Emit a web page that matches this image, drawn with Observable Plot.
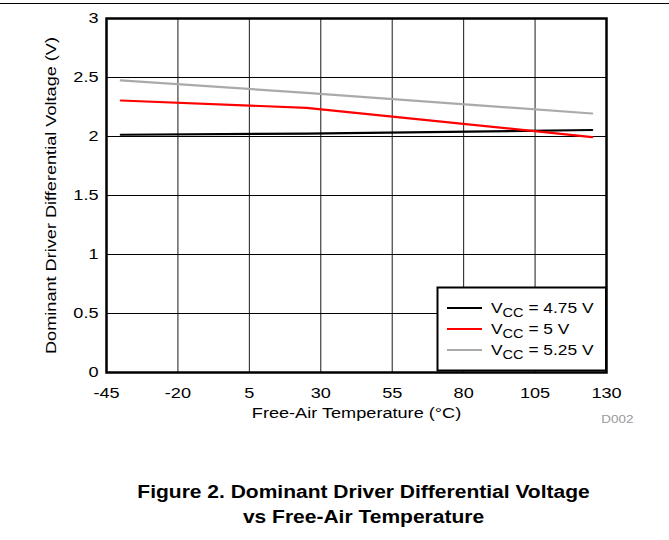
<!DOCTYPE html>
<html>
<head>
<meta charset="utf-8">
<script src="https://cdn.jsdelivr.net/npm/d3@7"></script>
<script src="https://cdn.jsdelivr.net/npm/@observablehq/plot@0.6"></script>
<style>
  html, body { margin: 0; padding: 0; background: #fff; }
  body { width: 669px; height: 540px; overflow: hidden; font-family: "Liberation Sans", Arial, sans-serif; }
  #wrap { position: relative; width: 669px; height: 540px; }
  #rule { position: absolute; left: 0; top: 3px; width: 669px; height: 1px; background: #000; }
  #chart { position: absolute; left: 0; top: 0; }
  #legend { position: absolute; left: 0; top: 0; }
  #title { position: absolute; left: 0; top: 480px; width: 727px; text-align: center;
           font-weight: bold; font-size: 17.5px; line-height: 25px; color: #000;
           transform: scaleX(1.2); transform-origin: 363.5px 0; }
</style>
</head>
<body>
<div id="wrap">
  <div id="rule"></div>
  <div id="chart"></div>
  <svg id="legend" width="669" height="440"></svg>
  <div id="title">Figure 2. Dominant Driver Differential Voltage<br>vs Free-Air Temperature</div>
</div>
<script>
// Data
const temps = [-40, 25, 125];
const v475 = [2.015, 2.025, 2.055];
const v500 = [2.305, 2.243, 1.995];
const v525 = [2.475, 2.37, 2.195];
const seriesNames = ["VCC = 4.75 V", "VCC = 5 V", "VCC = 5.25 V"];
const seriesColors = ["#000000", "#ff0000", "#aaaaaa"];
const xTicks = [-45, -20, 5, 30, 55, 80, 105, 130];
const yTicks = [0, 0.5, 1, 1.5, 2, 2.5, 3];
const xLabel = "Free-Air Temperature (°C)";
const yLabel = "Dominant Driver Differential Voltage (V)";
const code = "D002";

const allSeries = [v475, v500, v525];
const rows = [];
allSeries.forEach((vals, i) => {
  temps.forEach((t, j) => rows.push({series: seriesNames[i], t, v: vals[j]}));
});

const font = "Liberation Sans, Arial, sans-serif";
const plot = Plot.plot({
  width: 669,
  height: 440,
  marginLeft: 106,
  marginRight: 63,
  marginTop: 18,
  marginBottom: 68,
  style: {fontFamily: font, fontSize: "15.5px", color: "#000", background: "transparent"},
  x: {domain: [-45, 130], ticks: xTicks},
  y: {domain: [0, 3], ticks: yTicks},
  color: {domain: seriesNames, range: seriesColors},
  marks: [
    Plot.gridX(xTicks, {stroke: "#000", strokeOpacity: 0.9, strokeWidth: 1}),
    Plot.gridY(yTicks, {stroke: "#000", strokeOpacity: 1, strokeWidth: 1}),
    Plot.line(rows, {x: "t", y: "v", z: "series", stroke: "series", strokeWidth: 2.2}),
    Plot.frame({stroke: "#000", strokeWidth: 2.5}),
    Plot.axisX(xTicks, {tickSize: 0, tickPadding: 14, label: null, fontSize: 15.5, tickFormat: d => String(d)}),
    Plot.axisY(yTicks, {tickSize: 0, tickPadding: 8, label: null, fontSize: 15.5, tickFormat: d => String(d)}),
    Plot.text([xLabel], {frameAnchor: "bottom", dy: 34, lineAnchor: "top", fontSize: 15.5, fill: "#000"}),
    Plot.text([yLabel], {frameAnchor: "left", dx: -55, rotate: -90, textAnchor: "middle", lineAnchor: "middle", fontSize: 15.5, fill: "#000"}),
    Plot.text([code], {frameAnchor: "bottom-right", dx: 27, dy: 50, textAnchor: "end", fontSize: 11.5, fill: "#999"})
  ]
});
document.getElementById("chart").appendChild(plot);

// The reference's type is slightly stretched horizontally; mimic that.
function stretch(el, s) {
  const x = parseFloat(el.getAttribute("x")) || 0;
  const t = el.getAttribute("transform") || "";
  el.setAttribute("transform", `${t} translate(${x},0) scale(${s},1) translate(${-x},0)`);
}
plot.querySelectorAll("text").forEach(el => stretch(el, 1.17));

// Legend overlay
const lg = d3.select("#legend");
const bx = 437.5, by = 287.5, bw = 168.5, bh = 83;
lg.append("rect").attr("x", bx).attr("y", by).attr("width", bw).attr("height", bh)
  .attr("fill", "#fff").attr("stroke", "#000").attr("stroke-width", 2);
seriesNames.forEach((name, i) => {
  const cy = 308 + i * 21;
  lg.append("line").attr("x1", 447).attr("x2", 482).attr("y1", cy).attr("y2", cy)
    .attr("stroke", seriesColors[i]).attr("stroke-width", 2.2);
  const t = lg.append("text").attr("x", 491).attr("y", cy + 5.5)
    .attr("font-family", font).attr("font-size", 15.5).attr("fill", "#000");
  t.append("tspan").text("V");
  t.append("tspan").attr("dy", 4).attr("font-size", 13).text("CC");
  t.append("tspan").attr("dy", -4).text(name.slice(3));
  stretch(t.node(), 1.12);
});
</script>
</body>
</html>
